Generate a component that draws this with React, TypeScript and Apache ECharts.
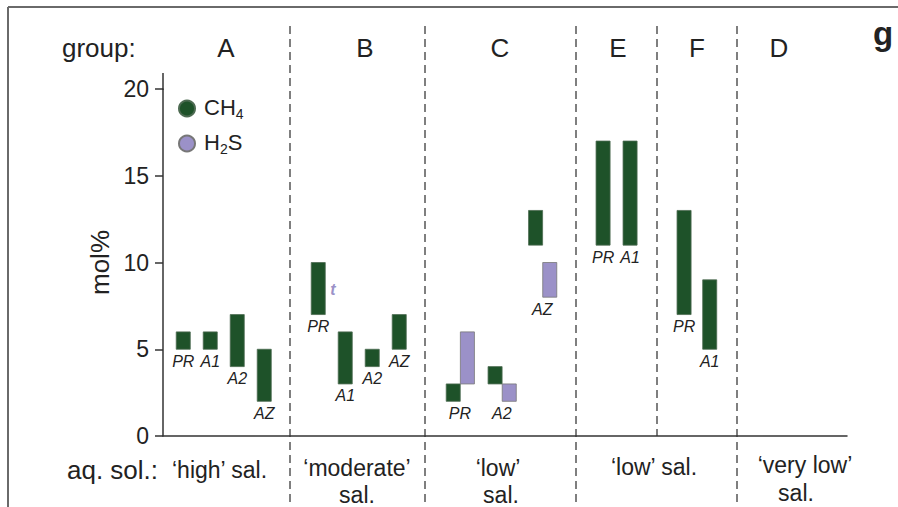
import React, { useEffect, useRef } from "react";
import * as echarts from "echarts";

// ---- data ----
const seriesNames = ["CH4", "H2S"];
// position of each sample column along the (hidden) x axis, in bar-slot units
const ch4X = [1.5, 3.5, 5.5, 7.5, 11.5, 13.5, 15.5, 17.5, 21.5, 24.6, 27.6, 32.6, 34.6, 38.6, 40.5];
const ch4Low = [5, 5, 4, 2, 7, 3, 4, 5, 2, 3, 11, 11, 11, 7, 5];
const ch4High = [6, 6, 7, 5, 10, 6, 5, 7, 3, 4, 13, 17, 17, 13, 9];
const h2sX = [22.55, 25.65, 28.65];
const h2sLow = [3, 2, 8];
const h2sHigh = [6, 3, 10];
const sampleNames = ["PR", "A1", "A2", "AZ", "PR", "A1", "A2", "AZ", "PR", "A2", "AZ", "PR", "A1", "PR", "A1"];
const sampleLabelX = [1.5, 3.5, 5.5, 7.5, 11.5, 13.5, 15.5, 17.5, 22.0, 25.1, 28.1, 32.6, 34.6, 38.6, 40.5];
const sampleLabelY = [5, 5, 4, 2, 7, 3, 4, 5, 2, 2, 8, 11, 11, 7, 5];
const groupNames = ["A", "B", "C", "E", "F", "D"];
const yTicks = [0, 5, 10, 15, 20];

const FONT = "'Liberation Sans', Arial, Helvetica, sans-serif";
const GREEN = "#1e5229";
const PURPLE = "#9b91c8";
const INK = "#222";

export default function App() {
  const ref = useRef<HTMLDivElement>(null);
  useEffect(() => {
    if (!ref.current) return;
    const chart = echarts.init(ref.current, undefined, { renderer: "svg" });

    const barItem = (color: string, stroke: string) => (params: any, api: any) => {
      const x = api.value(0);
      const lo = api.coord([x, api.value(1)]);
      const hi = api.coord([x, api.value(2)]);
      const w = api.size([1.04, 0])[0];
      return {
        type: "rect",
        shape: { x: lo[0] - w / 2, y: hi[1], width: w, height: lo[1] - hi[1] },
        style: { fill: color, stroke, lineWidth: 0.8 },
      };
    };

    const groupCenters = [226, 365, 500, 618, 697, 779];
    const dividers = [
      { x: 290, y2: 505 },
      { x: 425, y2: 505 },
      { x: 576, y2: 505 },
      { x: 657, y2: 436 },
      { x: 737, y2: 505 },
    ];

    const txt = (text: string, x: number, y: number, size: number, align = "center", extra: any = {}) => ({
      type: "text",
      x,
      y,
      style: { text, fontSize: size, fontFamily: FONT, fill: INK, align, verticalAlign: "middle", ...extra },
      silent: true,
    });

    const graphics: any[] = [
      // frame
      { type: "line", shape: { x1: 8, y1: 7, x2: 898, y2: 7 }, style: { stroke: "#6a6a6a", lineWidth: 2 } },
      { type: "line", shape: { x1: 8, y1: 7, x2: 8, y2: 507 }, style: { stroke: "#6a6a6a", lineWidth: 2 } },
      // y axis extension above 20
      { type: "line", shape: { x1: 163, y1: 73, x2: 163, y2: 90 }, style: { stroke: "#333", lineWidth: 1.5 } },
      ...dividers.map((d) => ({
        type: "line",
        shape: { x1: d.x, y1: 26, x2: d.x, y2: d.y2 },
        style: { stroke: "#555", lineWidth: 1.5, lineDash: [8, 5] },
        z: 0,
      })),
      txt("group:", 62, 48, 26, "left"),
      ...groupNames.map((g, i) => txt(g, groupCenters[i], 48, 26)),
      txt("g", 883, 33, 33, "center", { fontWeight: "bold" }),
      txt("aq. sol.:", 67, 470, 26, "left"),
      txt("\u2018high\u2019 sal.", 172, 470, 23, "left"),
      txt("\u2018moderate\u2019", 357, 468, 23),
      txt("sal.", 357, 495, 23),
      txt("\u2018low\u2019", 498, 468, 23),
      txt("sal.", 501, 495, 23),
      txt("\u2018low\u2019 sal.", 654, 467, 23),
      txt("\u2018very low\u2019", 805, 465, 23),
      txt("sal.", 796, 493, 23),
      txt("t", 333, 289, 16, "center", { fill: PURPLE, fontStyle: "italic", fontWeight: "bold" }),
    ];

    chart.setOption({
      animation: false,
      textStyle: { fontFamily: FONT },
      grid: { left: 163, right: 51, top: 89, bottom: 71, containLabel: false },
      xAxis: {
        type: "value",
        min: 0,
        max: 50.67,
        axisLine: { show: true, onZero: false, lineStyle: { color: "#333", width: 1.5 } },
        axisTick: { show: false },
        axisLabel: { show: false },
        splitLine: { show: false },
      },
      yAxis: {
        type: "value",
        min: yTicks[0],
        max: yTicks[yTicks.length - 1],
        interval: 5,
        name: "mol%",
        nameLocation: "middle",
        nameRotate: 90,
        nameGap: 46,
        nameTextStyle: { fontSize: 26, color: INK, fontFamily: FONT },
        axisLine: { show: true, lineStyle: { color: "#333", width: 1.5 } },
        axisTick: { show: true, length: 8, lineStyle: { color: "#333", width: 1.5 } },
        axisLabel: { fontSize: 23, color: INK, margin: 14, fontFamily: FONT },
        splitLine: { show: false },
      },
      legend: {
        data: seriesNames,
        orient: "vertical",
        left: 178,
        top: 96,
        padding: 0,
        icon: "circle",
        itemWidth: 16,
        itemHeight: 16,
        itemGap: 10,
        formatter: (name: string) => (name === "CH4" ? "{n|CH}{s|4}" : "{n|H}{s|2}{n|S}"),
        textStyle: {
          fontFamily: FONT,
          color: INK,
          padding: [0, 0, 0, 4],
          rich: {
            n: { fontSize: 22, lineHeight: 25, color: INK, fontFamily: FONT, verticalAlign: "top" },
            s: { fontSize: 14, lineHeight: 14, color: INK, fontFamily: FONT, verticalAlign: "bottom" },
          },
        },
      },
      series: [
        {
          name: "CH4",
          type: "custom",
          renderItem: barItem(GREEN, "#4d6b52"),
          itemStyle: { color: GREEN, borderColor: "#4d6b52", borderWidth: 0.8 },
          encode: { x: 0, y: [1, 2] },
          data: ch4X.map((x, i) => [x, ch4Low[i], ch4High[i]]),
        },
        {
          name: "H2S",
          type: "custom",
          renderItem: barItem(PURPLE, "#777"),
          itemStyle: { color: PURPLE, borderColor: "#777", borderWidth: 0.8 },
          encode: { x: 0, y: [1, 2] },
          data: h2sX.map((x, i) => [x, h2sLow[i], h2sHigh[i]]),
        },
        {
          name: "labels",
          type: "custom",
          silent: true,
          renderItem: (params: any, api: any) => {
            const p = api.coord([api.value(0), api.value(1)]);
            return {
              type: "text",
              x: p[0],
              y: p[1] + 12,
              style: {
                text: sampleNames[params.dataIndex],
                fontSize: 16,
                fontStyle: "italic",
                fontFamily: FONT,
                fill: INK,
                align: "center",
                verticalAlign: "middle",
              },
            };
          },
          encode: { x: 0, y: 1 },
          data: sampleLabelX.map((x, i) => [x, sampleLabelY[i]]),
        },
      ],
      graphic: graphics,
    });
    return () => chart.dispose();
  }, []);
  return (
    <div
      ref={ref}
      style={{ position: "fixed", left: 0, top: 0, width: 898, height: 507, background: "#fff" }}
    />
  );
}
